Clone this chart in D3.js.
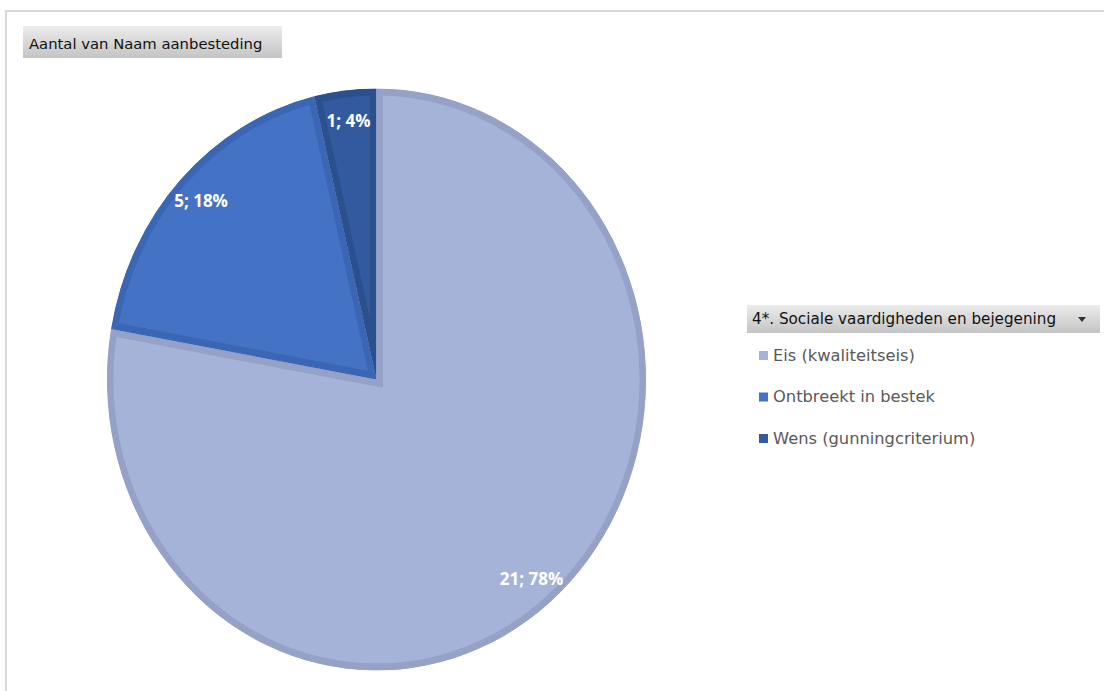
<!DOCTYPE html>
<html>
<head>
<meta charset="utf-8">
<script src="https://cdn.jsdelivr.net/npm/d3@7"></script>
<style>
  body { margin: 0; background: #fff; }
  svg { display: block; }
</style>
</head>
<body>
<svg id="chart" width="1104" height="691" viewBox="0 0 1104 691"></svg>
<script>
// data
const categories = ["Eis (kwaliteitseis)", "Ontbreekt in bestek", "Wens (gunningcriterium)"]
const counts = [21, 5, 1]
const percents = ["78%", "18%", "4%"]
const fills = ["#a5b3d9", "#4472c4", "#33599e"]
const borders = ["#95a1c6", "#3b66b4", "#2c4f8e"]
const titleText = "Aantal van Naam aanbesteding"
const legendTitle = "4*. Sociale vaardigheden en bejegening"

const svg = d3.select("#chart")
const font = "'DejaVu Sans', Verdana, sans-serif"

// gradient for the pivot buttons
const defs = svg.append("defs")
const grad = defs.append("linearGradient").attr("id", "btn").attr("x1", 0).attr("y1", 0).attr("x2", 0).attr("y2", 1)
grad.append("stop").attr("offset", "0%").attr("stop-color", "#ececec")
grad.append("stop").attr("offset", "100%").attr("stop-color", "#c4c4c4")

// chart area border
svg.append("rect")
    .attr("x", 6).attr("y", 11)
    .attr("width", 1110).attr("height", 700)
    .attr("fill", "none")
    .attr("stroke", "#d9d9d9")
    .attr("stroke-width", 2)

// title button
svg.append("rect").attr("x", 23).attr("y", 26).attr("width", 259).attr("height", 32).attr("fill", "url(#btn)")
svg.append("text")
    .attr("x", 29).attr("y", 49)
    .attr("font-family", font).attr("font-size", 14.8)
    .attr("fill", "#111")
    .text(titleText)

// pie (ellipse: scale x)
const cx = 376.5, cy = 379.5, rx = 269.5, ry = 291
const sx = rx / ry
const g = svg.append("g").attr("transform", `translate(${cx},${cy}) scale(${sx},1)`)

const pie = d3.pie().sort(null).value(d => d)
const arcs = pie(counts)
const arc = d3.arc().innerRadius(0).outerRadius(ry)
const labelArc = d3.arc().innerRadius(ry * 0.895).outerRadius(ry * 0.895)

// clip each slice to itself so the border sits inside
arcs.forEach((a, i) => {
    defs.append("clipPath").attr("id", "clip" + i)
        .append("path").attr("d", arc(a))
})

g.selectAll(".slice")
    .data(arcs)
    .enter()
    .append("path")
    .attr("class", "slice")
    .attr("d", arc)
    .attr("fill", (d, i) => fills[i])
    .attr("stroke", (d, i) => borders[i])
    .attr("stroke-width", 14)
    .attr("stroke-linejoin", "miter")
    .attr("clip-path", (d, i) => `url(#clip${i})`)

svg.selectAll(".lbl")
    .data(arcs)
    .enter()
    .append("text")
    .attr("class", "lbl")
    .attr("x", d => cx + labelArc.centroid(d)[0] * sx)
    .attr("y", d => cy + labelArc.centroid(d)[1])
    .attr("dy", "0.35em")
    .attr("text-anchor", "middle")
    .attr("font-family", "'Open Sans', sans-serif")
    .attr("font-weight", "bold")
    .attr("font-size", 17)
    .attr("fill", "#fff")
    .text((d, i) => `${counts[i]}; ${percents[i]}`)

// legend
svg.append("rect").attr("x", 747).attr("y", 305).attr("width", 353).attr("height", 28).attr("fill", "url(#btn)")
svg.append("text")
    .attr("x", 752).attr("y", 324)
    .attr("font-family", font).attr("font-size", 15.2)
    .attr("fill", "#111")
    .text(legendTitle)
svg.append("path")
    .attr("d", "M1078,317 L1086,317 L1082,322 Z")
    .attr("fill", "#333")

const legend = svg.append("g")
    .selectAll("g")
    .data(categories)
    .enter()
    .append("g")
    .attr("transform", (d, i) => `translate(759,${355 + i * 41.5})`)

legend.append("rect")
    .attr("x", 0).attr("y", -4)
    .attr("width", 9).attr("height", 9)
    .attr("fill", (d, i) => fills[i])

legend.append("text")
    .attr("x", 14).attr("y", 0)
    .attr("dy", "0.35em")
    .attr("font-family", font).attr("font-size", 16.3)
    .attr("fill", "#595959")
    .text(d => d)
</script>
</body>
</html>
